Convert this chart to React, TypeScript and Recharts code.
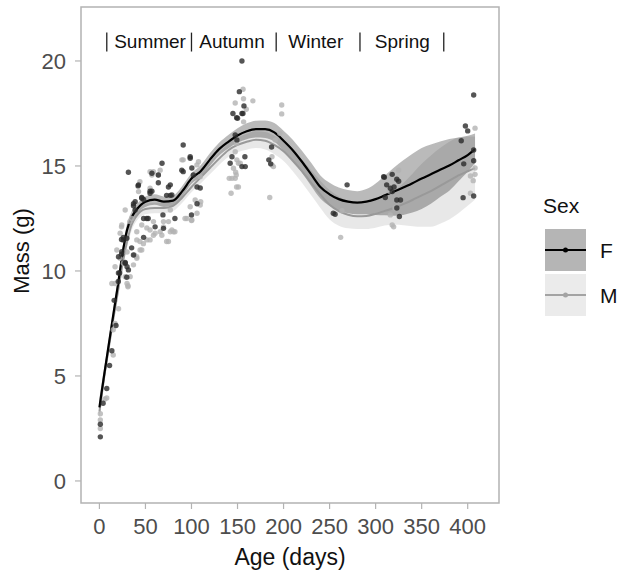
import React from "react";
import {
  ComposedChart,
  XAxis,
  YAxis,
  Area,
  Line,
  Scatter,
  ReferenceArea,
  ReferenceLine,
  ReferenceDot,
} from "recharts";

// smoothed fits
const smoothDays = [0, 5, 10, 15, 20, 25, 30, 35, 40, 50, 60, 70, 80, 90, 100, 110, 120, 130, 140, 150, 160, 170, 180, 190, 200, 210, 220, 230, 240, 250, 260, 270, 280, 290, 300, 310, 320, 330, 340, 350, 360, 370, 380, 390, 400, 408];

const femaleMean = [3.5, 5.0, 6.45, 7.9, 9.3, 10.8, 11.95, 12.55, 12.9, 13.3, 13.4, 13.3, 13.35, 13.8, 14.4, 14.75, 15.3, 15.8, 16.15, 16.45, 16.65, 16.75, 16.75, 16.6, 16.2, 15.75, 15.2, 14.6, 14.0, 13.65, 13.42, 13.3, 13.25, 13.3, 13.42, 13.6, 13.78, 13.97, 14.18, 14.4, 14.6, 14.82, 15.02, 15.27, 15.52, 15.8];
const femaleLow = [3.05, 4.65, 6.15, 7.6, 9.0, 10.5, 11.65, 12.27, 12.65, 13.05, 13.15, 13.05, 13.1, 13.55, 14.15, 14.47, 15.0, 15.5, 15.83, 16.1, 16.27, 16.35, 16.33, 16.15, 15.72, 15.25, 14.68, 14.05, 13.45, 13.1, 12.87, 12.75, 12.7, 12.7, 12.67, 12.65, 12.63, 12.67, 12.78, 12.95, 13.2, 13.52, 13.82, 14.27, 14.72, 15.15];
const femaleHigh = [3.95, 5.35, 6.75, 8.2, 9.6, 11.1, 12.25, 12.83, 13.15, 13.55, 13.65, 13.55, 13.6, 14.05, 14.65, 15.03, 15.6, 16.1, 16.47, 16.8, 17.03, 17.15, 17.17, 17.05, 16.68, 16.25, 15.72, 15.15, 14.55, 14.2, 13.97, 13.85, 13.8, 13.9, 14.17, 14.55, 14.93, 15.27, 15.58, 15.85, 16.02, 16.16, 16.28, 16.36, 16.44, 16.55];

const maleMean = [3.3, 4.9, 6.3, 7.7, 9.0, 10.3, 11.4, 12.2, 12.6, 12.95, 13.0, 13.0, 13.1, 13.5, 14.0, 14.45, 14.9, 15.35, 15.75, 16.0, 16.15, 16.25, 16.2, 16.0, 15.7, 15.25, 14.75, 14.2, 13.65, 13.15, 12.85, 12.68, 12.6, 12.62, 12.72, 12.86, 13.0, 13.18, 13.38, 13.6, 13.8, 14.05, 14.3, 14.55, 14.75, 14.9];
const maleLow = [2.85, 4.55, 6.0, 7.4, 8.7, 10.0, 11.1, 11.92, 12.35, 12.7, 12.75, 12.75, 12.85, 13.25, 13.75, 14.17, 14.6, 15.05, 15.43, 15.65, 15.77, 15.85, 15.78, 15.56, 15.24, 14.75, 14.2, 13.6, 13.0, 12.45, 12.15, 12.03, 12.0, 12.0, 12.06, 12.16, 12.2, 12.18, 12.13, 12.1, 12.1, 12.25, 12.45, 12.75, 13.1, 13.4];
const maleHigh = [3.75, 5.25, 6.6, 8.0, 9.3, 10.6, 11.7, 12.48, 12.85, 13.2, 13.25, 13.25, 13.35, 13.75, 14.25, 14.73, 15.2, 15.65, 16.07, 16.35, 16.53, 16.65, 16.62, 16.44, 16.16, 15.75, 15.3, 14.8, 14.3, 13.85, 13.55, 13.33, 13.2, 13.24, 13.38, 13.56, 13.8, 14.18, 14.63, 15.1, 15.5, 15.85, 16.15, 16.35, 16.4, 16.4];

// raw observations [age, mass]
const femalePoints = [
  [1, 2.1], [1, 2.7], [4, 3.7], [8, 4.4], [11, 5.5], [13.5, 6.2], [16, 8.6], [18, 7.4], [20.5, 9.5], [22, 9.9],
  [24, 10.8], [24, 11.5], [26, 11.6], [28, 10.4], [29.7, 9.7], [30, 10.2], [31.5, 14.7], [35, 11.1], [37, 13.1],
  [38.8, 13.3], [42, 14.05], [42.4, 14.1], [46, 13.5], [48, 12.5], [48, 13.4], [48, 11.6], [51.5, 12.5], [53, 12.5],
  [55, 13.8], [57, 14.65], [57, 13.8], [60.5, 12.1], [64, 14.2], [64, 14.57], [68, 15.13], [69, 12.67], [73, 13.6],
  [77, 13.6], [77, 14.1], [82, 12.5], [89.5, 14.8], [91, 16.0], [98.6, 15.44], [100, 12.67], [102, 14.57],
  [106, 13.2], [106, 14.0], [109.5, 13.95],
  [98.6, 15.37], [100.4, 14.9], [91, 14.73], [75, 14.0], [55, 13.7], [46, 13.46], [37, 13.2], [78.7, 13.62],
  [38.8, 12.9], [69.6, 12.03], [29.8, 11.56], [26, 11.48], [24.3, 10.92], [37, 10.76], [20.7, 10.68], [28, 10.37],
  [20.7, 9.9], [31.5, 10.05],
  [142, 15.13], [144, 15.44], [145, 17.5], [147.5, 16.48], [149, 17.3], [150, 17.27], [152, 18.54], [154.8, 20.0],
  [154.8, 17.5], [155.9, 17.5], [149.3, 16.24], [154.8, 14.97], [157, 17.86], [158, 15.44], [158.4, 14.97],
  [184, 15.29], [186, 15.1], [187, 15.9],
  [254, 12.75], [256, 12.7], [269, 14.1],
  [308.7, 14.49], [309.5, 14.46], [312, 14.1], [310.5, 13.5], [316, 13.94], [318, 14.6], [318, 13.78], [320, 14.0],
  [323, 14.37], [325, 14.27], [323, 13.38], [327, 13.38], [323, 13.0], [325.8, 12.59],
  [393, 16.2], [395, 13.49], [395.7, 15.1], [397.5, 16.9], [400, 16.67], [406.5, 18.38], [406.5, 15.76],
  [406.5, 15.25], [406.5, 13.57],
];

const malePoints = [
  [1, 3.2], [1, 2.9], [1, 2.5], [6, 3.9], [8, 3.95], [15, 7.2], [17, 7.5], [15, 6.0], [31, 9.3], [13.5, 9.4],
  [20.8, 8.2], [17, 9.4], [28, 12.9], [24, 12.1], [30, 10.9], [38, 10.76], [30, 9.4], [31, 9.25], [40.6, 10.68],
  [46, 11.0], [55, 11.48], [60.5, 11.8], [66, 11.87], [75, 11.4], [69.6, 12.1], [77, 11.87], [82, 11.87], [95, 12.5],
  [100, 12.4], [44, 11.4], [51.5, 12.05], [58.7, 12.35], [55, 14.73], [66, 14.8], [44, 14.25], [69.6, 12.35],
  [91, 15.29], [107.6, 15.2], [55, 13.94], [77, 12.9], [104, 13.38], [106, 12.75], [109.5, 13.14], [33, 12.35],
  [40.6, 11.87], [110, 13.3],
  [58.7, 14.73], [64, 14.57], [57, 14.57], [89.6, 15.29], [105.9, 15.05], [109.5, 14.49], [42.5, 13.78],
  [98.6, 13.06], [93, 12.5], [100.4, 12.43], [35.2, 12.5], [46, 12.19], [55, 11.95], [75, 12.35], [78.7, 11.95],
  [80.4, 11.87], [67.8, 11.7], [58.7, 11.7], [73, 11.4], [51.5, 11.48], [47.8, 11.3], [40.6, 11.48], [44.2, 11.0],
  [24.3, 12.19], [22.5, 11.8], [18.9, 11.0], [22.5, 10.6], [26, 10.37], [40.6, 10.6], [37, 10.29], [17, 10.2],
  [28, 9.73], [33.4, 9.73],
  [141, 14.41], [143, 13.7], [144, 14.41], [145.6, 14.89], [147.5, 15.68], [147.5, 14.41], [147.5, 18.0], [148, 14.7],
  [148.6, 14.57], [149, 14.0], [149, 16.08], [149.3, 15.29], [151, 15.13], [151, 14.0], [153, 15.13], [156, 18.65],
  [156.5, 18.2], [156.6, 17.1], [159.5, 17.7], [166.7, 18.1], [185, 13.5], [187.4, 15.44], [187.4, 15.05],
  [189, 14.97], [191, 16.24], [196, 16.56], [198, 17.9], [198, 17.48],
  [262, 11.6], [263.5, 12.87],
  [325, 14.8], [315, 13.8], [316, 12.67], [318, 12.19], [319.6, 12.1], [321, 13.0],
  [408, 16.8], [408, 14.9], [403, 14.52], [408, 14.6], [403, 13.7], [406, 14.3],
];

const xTicks = [0, 50, 100, 150, 200, 250, 300, 350, 400];
const yTicks = [0, 5, 10, 15, 20];

const seasons = ["Summer", "Autumn", "Winter", "Spring"];
const seasonCentres = [55, 144, 235, 329];
const seasonBreaks = [8, 100, 192, 283, 374];

const smoothData = smoothDays.map((day, i) => ({
  day,
  f: femaleMean[i],
  fBand: [femaleLow[i], femaleHigh[i]],
  m: maleMean[i],
  mBand: [maleLow[i], maleHigh[i]],
}));
const femaleData = femalePoints.map(([day, mass]) => ({ day, mass }));
const maleData = malePoints.map(([day, mass]) => ({ day, mass }));

const X_DOMAIN = [-20, 434];
const Y_DOMAIN = [-1.05, 22.57];
const FONT = "'Liberation Sans', Arial, Helvetica, sans-serif";

function Dot(props: any) {
  const { cx, cy, fill } = props;
  if (cx == null || cy == null) return null;
  return <circle cx={cx} cy={cy} r={2.7} fill={fill} fillOpacity={0.8} />;
}

function MassLabel() {
  return (
    <text
      x={28.5}
      y={251}
      transform="rotate(-90 28.5 251)"
      textAnchor="middle"
      fontSize={22}
      fill="#111"
    >
      Mass (g)
    </text>
  );
}

function SexLegend() {
  const keys = [
    { label: "F", box: "#b5b5b5", line: "#000000" },
    { label: "M", box: "#ebebeb", line: "#a3a3a3" },
  ];
  return (
    <svg
      width={91}
      height={140}
      style={{ position: "absolute", left: 530, top: 185 }}
    >
      <text x={13} y={28} fontSize={21} fill="#111">
        Sex
      </text>
      {keys.map((k, i) => {
        const top = 44 + i * 45;
        return (
          <g key={k.label}>
            <rect x={15} y={top} width={41} height={42} fill={k.box} />
            <line x1={15} x2={56} y1={top + 21} y2={top + 21} stroke={k.line} strokeWidth={2} />
            <circle cx={35.5} cy={top + 21} r={2.5} fill={k.line} />
            <text x={70} y={top + 28.5} fontSize={21} fill="#111">
              {k.label}
            </text>
          </g>
        );
      })}
    </svg>
  );
}

export default function App() {
  return (
    <div
      style={{
        position: "absolute",
        left: 0,
        top: 0,
        width: 621,
        height: 570,
        background: "#fff",
        fontFamily: FONT,
      }}
    >
      <ComposedChart
        width={621}
        height={570}
        data={smoothData}
        margin={{ top: 7, right: 122, left: 0, bottom: 0 }}
      >
        <XAxis
          dataKey="day"
          type="number"
          domain={X_DOMAIN}
          ticks={xTicks}
          allowDataOverflow
          height={67}
          axisLine={false}
          tickLine={{ stroke: "#b3b3b3", strokeWidth: 1.2 }}
          tickSize={6}
          tickMargin={9}
          tick={{ fill: "#4d4d4d", fontSize: 22 }}
          label={{ value: "Age (days)", position: "insideBottom", offset: 5, fontSize: 23, fill: "#111" }}
        />
        <YAxis
          type="number"
          domain={Y_DOMAIN}
          ticks={yTicks}
          allowDataOverflow
          width={81}
          axisLine={false}
          tickLine={{ stroke: "#b3b3b3", strokeWidth: 1.2 }}
          tickSize={6}
          tickMargin={9}
          tick={{ fill: "#4d4d4d", fontSize: 22 }}
          label={<MassLabel />}
        />
        <Area
          type="monotone"
          dataKey="mBand"
          fill="#000"
          fillOpacity={0.09}
          stroke="none"
          isAnimationActive={false}
        />
        <Area
          type="monotone"
          dataKey="fBand"
          fill="#000"
          fillOpacity={0.27}
          stroke="none"
          isAnimationActive={false}
        />
        <Scatter data={maleData} dataKey="mass" fill="#b3b3b3" shape={<Dot />} isAnimationActive={false} />
        <Scatter data={femaleData} dataKey="mass" fill="#2a2a2a" shape={<Dot />} isAnimationActive={false} />
        <Line
          type="monotone"
          dataKey="m"
          stroke="#999999"
          strokeWidth={2}
          dot={false}
          isAnimationActive={false}
        />
        <Line
          type="monotone"
          dataKey="f"
          stroke="#000000"
          strokeWidth={2.2}
          dot={false}
          isAnimationActive={false}
        />
        {seasonBreaks.map((d) => (
          <ReferenceLine
            key={"b" + d}
            segment={[
              { x: d, y: 20.45 },
              { x: d, y: 21.35 },
            ]}
            stroke="#222"
            strokeWidth={1.3}
          />
        ))}
        {seasons.map((s, i) => (
          <ReferenceDot
            key={s}
            x={seasonCentres[i]}
            y={20.95}
            r={0}
            fill="none"
            stroke="none"
            label={{ value: s, position: "center", fontSize: 19, fill: "#111" }}
          />
        ))}
        <ReferenceArea
          x1={X_DOMAIN[0]}
          x2={X_DOMAIN[1]}
          y1={Y_DOMAIN[0]}
          y2={Y_DOMAIN[1]}
          fill="none"
          stroke="#b3b3b3"
          strokeWidth={1.5}
        />
      </ComposedChart>
      <SexLegend />
    </div>
  );
}
